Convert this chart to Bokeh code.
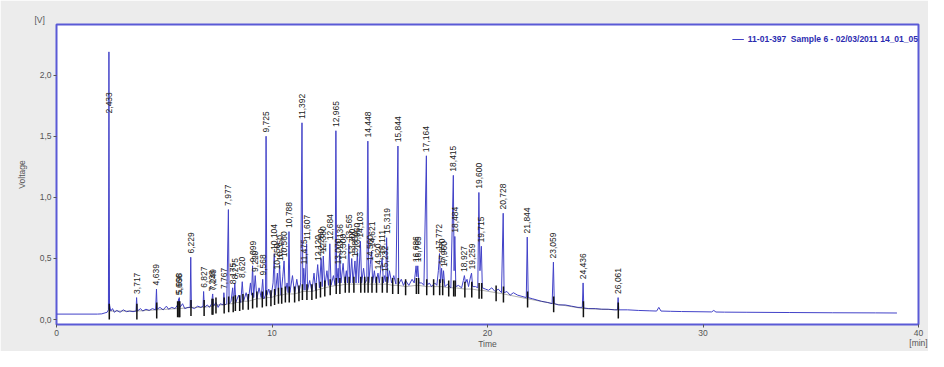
import numpy as np
from bokeh.plotting import figure
from bokeh.models import FixedTicker, CustomJSTickFormatter
from bokeh.core.properties import value
from bokeh.embed import file_html
from bokeh.resources import INLINE

# ---- chromatogram trace (time [min], voltage [V]) ----
trace_early = [
    (0.0, 0.045), (1.9, 0.045), (2.1, 0.047), (2.25, 0.055), (2.35, 0.06), (2.41, 0.08),
    (2.433, 2.19), (2.46, 0.12), (2.52, 0.07), (2.6, 0.09), (2.68, 0.06), (2.8, 0.075),
    (2.95, 0.06), (3.1, 0.08), (3.25, 0.065), (3.4, 0.07), (3.55, 0.065), (3.69, 0.07),
    (3.717, 0.18), (3.75, 0.07), (3.9, 0.09), (4.0, 0.07), (4.15, 0.085), (4.3, 0.075),
    (4.45, 0.09), (4.6, 0.08), (4.639, 0.25), (4.67, 0.085), (4.8, 0.1), (4.95, 0.08),
    (5.1, 0.11), (5.2, 0.085), (5.35, 0.1), (5.5, 0.09), (5.62, 0.12), (5.666, 0.17),
    (5.68, 0.12), (5.698, 0.18), (5.73, 0.1), (5.85, 0.13), (5.95, 0.09), (6.1, 0.1),
    (6.2, 0.1), (6.229, 0.51), (6.26, 0.1), (6.4, 0.09), (6.55, 0.11), (6.7, 0.1),
    (6.8, 0.11), (6.827, 0.23), (6.86, 0.1), (7.0, 0.12), (7.1, 0.1), (7.2, 0.13),
    (7.238, 0.2), (7.249, 0.21), (7.28, 0.11), (7.4, 0.14), (7.5, 0.1), (7.6, 0.13),
    (7.74, 0.12), (7.767, 0.22), (7.8, 0.12), (7.9, 0.13), (7.977, 0.90), (8.01, 0.13),
]
trace_mid = [
    (8.1, 0.15), (8.175, 0.26), (8.22, 0.13), (8.275, 0.30), (8.32, 0.14), (8.45, 0.2),
    (8.55, 0.14), (8.62, 0.31), (8.68, 0.15), (8.8, 0.22), (8.9, 0.15), (9.0, 0.3),
    (9.05, 0.2), (9.099, 0.44), (9.15, 0.18), (9.22, 0.36), (9.3, 0.17), (9.4, 0.26),
    (9.5, 0.18), (9.568, 0.33), (9.62, 0.17), (9.7, 0.2), (9.725, 1.50), (9.76, 0.2),
    (9.85, 0.25), (9.95, 0.18), (10.05, 0.3), (10.104, 0.54), (10.15, 0.2), (10.25, 0.38),
    (10.3, 0.22), (10.35, 0.45), (10.42, 0.2), (10.5, 0.35), (10.56, 0.48), (10.62, 0.22),
    (10.7, 0.3), (10.75, 0.22), (10.788, 0.72), (10.83, 0.22), (10.95, 0.36), (11.05, 0.21),
    (11.15, 0.33), (11.25, 0.22), (11.33, 0.3), (11.392, 1.61), (11.43, 0.24), (11.475, 0.42),
    (11.53, 0.24), (11.607, 0.62), (11.65, 0.24), (11.75, 0.32), (11.85, 0.23), (11.95, 0.38),
    (12.02, 0.24), (12.12, 0.45), (12.2, 0.26), (12.28, 0.50), (12.33, 0.27), (12.38, 0.52),
    (12.45, 0.27), (12.55, 0.4), (12.62, 0.28), (12.684, 0.62), (12.74, 0.28), (12.85, 0.36),
    (12.93, 0.28), (12.965, 1.545), (13.0, 0.29), (13.07, 0.42), (13.1, 0.3), (13.136, 0.54),
    (13.2, 0.3), (13.3, 0.46), (13.37, 0.3), (13.45, 0.4), (13.5, 0.3), (13.565, 0.62),
    (13.62, 0.3), (13.7, 0.5), (13.76, 0.3), (13.85, 0.48), (13.9, 0.3), (13.96, 0.55),
    (14.02, 0.3), (14.103, 0.64), (14.16, 0.3), (14.25, 0.42), (14.33, 0.3), (14.4, 0.33),
    (14.448, 1.46), (14.49, 0.3), (14.56, 0.45), (14.621, 0.56), (14.67, 0.3), (14.75, 0.4),
    (14.82, 0.3), (14.92, 0.38), (14.98, 0.3), (15.05, 0.42), (15.111, 0.5), (15.17, 0.3),
    (15.232, 0.36), (15.28, 0.31), (15.319, 0.67), (15.37, 0.3), (15.45, 0.4), (15.55, 0.3),
    (15.65, 0.36), (15.75, 0.29), (15.844, 1.42), (15.88, 0.29), (16.0, 0.33), (16.1, 0.28),
    (16.2, 0.32), (16.35, 0.28), (16.5, 0.33), (16.6, 0.3), (16.686, 0.44), (16.72, 0.35),
    (16.765, 0.44), (16.82, 0.3), (16.95, 0.3), (17.05, 0.28), (17.164, 1.34), (17.2, 0.28),
    (17.3, 0.3), (17.4, 0.27), (17.55, 0.3), (17.65, 0.28), (17.72, 0.4), (17.772, 0.54),
    (17.82, 0.3), (17.87, 0.42), (17.92, 0.3), (17.96, 0.4), (18.02, 0.27), (18.15, 0.29),
    (18.3, 0.26), (18.415, 1.18), (18.45, 0.4), (18.484, 0.68), (18.53, 0.27), (18.65, 0.28),
    (18.8, 0.26), (18.88, 0.32), (18.927, 0.36), (18.98, 0.3), (19.05, 0.33), (19.12, 0.27),
    (19.2, 0.34), (19.259, 0.38), (19.31, 0.27), (19.45, 0.27), (19.55, 0.26), (19.600, 1.04),
    (19.65, 0.4), (19.715, 0.60), (19.76, 0.26), (19.9, 0.25),
]
trace_late = [
    (20.05, 0.24), (20.2, 0.26), (20.35, 0.23), (20.5, 0.25), (20.65, 0.22), (20.728, 0.87),
    (20.77, 0.22), (20.9, 0.23), (21.05, 0.2), (21.2, 0.22), (21.4, 0.2), (21.6, 0.19),
    (21.8, 0.18), (21.844, 0.675), (21.89, 0.18), (22.1, 0.17), (22.3, 0.16), (22.5, 0.15),
    (22.8, 0.14), (23.0, 0.13), (23.059, 0.47), (23.1, 0.13), (23.3, 0.12), (23.6, 0.12),
    (23.9, 0.11), (24.2, 0.1), (24.4, 0.1), (24.436, 0.30), (24.47, 0.095), (24.7, 0.09),
    (25.0, 0.09), (25.3, 0.085), (25.6, 0.085), (25.9, 0.08), (26.03, 0.08), (26.061, 0.18),
    (26.09, 0.08), (26.5, 0.08), (27.0, 0.075), (27.5, 0.072), (27.85, 0.07), (27.95, 0.1),
    (28.05, 0.07), (28.5, 0.068), (29.0, 0.066), (30.0, 0.064), (30.4, 0.063), (30.5, 0.075),
    (30.6, 0.062), (31.0, 0.061), (32.0, 0.06), (34.0, 0.058), (36.0, 0.056), (38.0, 0.055),
    (39.0, 0.054),
]

# ---- labelled peaks: retention time [min] and apex height [V] ----
peak_rt = [2.433, 3.717, 4.639, 5.666, 5.698, 6.229, 6.827, 7.238, 7.249, 7.767, 7.977,
           8.175, 8.275, 8.620, 9.099, 9.220, 9.568, 9.725, 10.104, 10.250, 10.350, 10.560,
           10.788, 11.392, 11.475, 11.607, 12.120, 12.280, 12.380, 12.684, 12.965, 13.070,
           13.136, 13.300, 13.565, 13.700, 13.850, 13.960, 14.103, 14.448, 14.560, 14.621,
           14.920, 15.111, 15.232, 15.319, 15.844, 16.686, 16.765, 17.164, 17.772, 17.870,
           17.960, 18.415, 18.484, 18.927, 19.259, 19.600, 19.715, 20.728, 21.844, 23.059,
           24.436, 26.061]
peak_height = [2.19, 0.18, 0.25, 0.17, 0.18, 0.51, 0.23, 0.20, 0.21, 0.22, 0.90,
               0.26, 0.30, 0.31, 0.44, 0.36, 0.33, 1.50, 0.54, 0.38, 0.45, 0.48,
               0.72, 1.61, 0.42, 0.62, 0.45, 0.50, 0.52, 0.62, 1.545, 0.42,
               0.54, 0.46, 0.62, 0.50, 0.48, 0.55, 0.64, 1.46, 0.45, 0.56,
               0.38, 0.50, 0.36, 0.67, 1.42, 0.44, 0.44, 1.34, 0.54, 0.42,
               0.40, 1.18, 0.68, 0.36, 0.38, 1.04, 0.60, 0.87, 0.675, 0.47,
               0.30, 0.18]

# ---- integration markers (time [min], baseline level [V]) ----
mark_t = [2.45, 3.73, 4.65, 5.62, 5.68, 5.72, 6.24, 6.85, 7.22, 7.26, 7.40, 7.78, 7.99,
          8.20, 8.30, 8.50, 8.65, 8.90, 9.10, 9.30, 9.55, 9.74, 9.95, 10.12, 10.30, 10.45,
          10.62, 10.80, 11.05, 11.25, 11.41, 11.62, 11.85, 12.05, 12.25, 12.45, 12.70, 12.98,
          13.15, 13.40, 13.58, 13.80, 14.12, 14.30, 14.46, 14.64, 14.85, 15.12, 15.34, 15.60,
          15.86, 16.20, 16.70, 16.80, 17.18, 17.50, 17.78, 17.92, 18.20, 18.43, 18.50, 18.95,
          19.27, 19.61, 19.73, 20.40, 20.74, 21.86, 23.07, 24.45, 26.07]
mark_v = [0.07, 0.07, 0.08, 0.09, 0.09, 0.09, 0.10, 0.10, 0.11, 0.11, 0.12, 0.12, 0.13,
          0.13, 0.14, 0.14, 0.15, 0.15, 0.16, 0.17, 0.17, 0.18, 0.18, 0.19, 0.20, 0.20,
          0.21, 0.21, 0.21, 0.22, 0.23, 0.23, 0.23, 0.24, 0.25, 0.26, 0.27, 0.28,
          0.28, 0.29, 0.29, 0.29, 0.29, 0.29, 0.29, 0.29, 0.29, 0.29, 0.29, 0.28,
          0.28, 0.27, 0.28, 0.28, 0.27, 0.27, 0.27, 0.27, 0.26, 0.26, 0.26, 0.25,
          0.25, 0.24, 0.24, 0.22, 0.21, 0.17, 0.13, 0.09, 0.08]

x_ticks = [0, 10, 20, 30, 40]
y_ticks = [0.0, 0.5, 1.0, 1.5, 2.0]
legend_text = "11-01-397  Sample 6 - 02/03/2011 14_01_05"
x_title = "Time"
y_title = "Voltage"
y_unit = "[V]"
x_unit = "[min]"

# ---------------------------------------------------------------------------
trace = trace_early + trace_mid + trace_late
tr_t = [a for a, b in trace]
tr_v = [b for a, b in trace]

FONT = "Liberation Sans"
BLUE = "#4242c8"
GREY = "#555555"

p = figure(width=928, height=351, x_range=(0, 40), y_range=(-0.04, 2.414),
           output_backend="svg", toolbar_location=None,
           min_border_left=56, min_border_right=10, min_border_top=24, min_border_bottom=25,
           x_axis_label=x_title, y_axis_label=y_title)

p.background_fill_color = "white"
p.border_fill_color = "#ececec"
p.outline_line_color = "#5a5ad6"
p.outline_line_width = 2
p.grid.visible = False

# unit of the voltage axis shown as the (left aligned) title above the frame
p.title.text = y_unit
p.title.align = "left"
p.title.offset = -22
p.title.standoff = 0
p.title.text_font = FONT
p.title.text_font_size = "8.5px"
p.title.text_font_style = "normal"
p.title.text_color = GREY

for ax in (p.xaxis[0], p.yaxis[0]):
    ax.axis_line_color = None
    ax.major_tick_line_color = GREY
    ax.major_tick_in = 0
    ax.major_tick_out = 3
    ax.minor_tick_line_color = None
    ax.major_label_text_font = FONT
    ax.major_label_text_font_size = "8.5px"
    ax.major_label_text_color = GREY
    ax.axis_label_text_font = FONT
    ax.axis_label_text_font_size = "8.5px"
    ax.axis_label_text_font_style = "normal"
    ax.axis_label_text_color = GREY

p.xaxis.ticker = FixedTicker(ticks=x_ticks)
# the time unit sits under the last tick value, as in the original software
p.xaxis.formatter = CustomJSTickFormatter(
    args=dict(last=x_ticks[-1], unit=x_unit),
    code="return tick == last ? tick + '\\n' + unit : '' + tick;")
p.xaxis.major_label_standoff = 0
p.xaxis.major_label_text_line_height = 1.0
p.xaxis.axis_label_text_line_height = 1.0
p.xaxis.axis_label_standoff = -12
p.yaxis.ticker = FixedTicker(ticks=y_ticks)
p.yaxis.formatter = CustomJSTickFormatter(code="return tick.toFixed(1).replace('.', ',');")
p.yaxis.major_label_standoff = 2
p.yaxis.axis_label_standoff = 10

# trace
p.line(tr_t, tr_v, line_color=BLUE, line_width=1, legend_label=legend_text)

# integration baseline and markers
p.line(mark_t, mark_v, line_color="#222222", line_width=1, line_alpha=0.35)
mv = np.array(mark_v)
p.segment(x0=mark_t, y0=mv - 0.07, x1=mark_t, y1=mv + 0.06,
          line_color="#111111", line_width=1.5)

# peak labels
ph = np.array(peak_height)
lab_y = np.where(ph > 2.0, 0.77 * ph, ph + 0.03)
lab_txt = [f"{t:.3f}".replace(".", ",") for t in peak_rt]
p.text(x=peak_rt, y=lab_y, text=lab_txt, angle=np.pi / 2,
       text_align="left", text_baseline="middle",
       text_font=value(FONT), text_font_size="8.5px", text_color="#222222")

# legend
lg = p.legend[0]
lg.location = "top_right"
lg.border_line_color = None
lg.background_fill_alpha = 0
lg.label_text_font = FONT
lg.label_text_font_size = "8.5px"
lg.label_text_font_style = "bold"
lg.label_text_color = "#2b2bb0"
lg.glyph_width = 12
lg.glyph_height = 10
lg.label_height = 30
lg.label_standoff = 4
lg.padding = 2
lg.margin = 0

open("out.html", "w").write(file_html(p, INLINE))
